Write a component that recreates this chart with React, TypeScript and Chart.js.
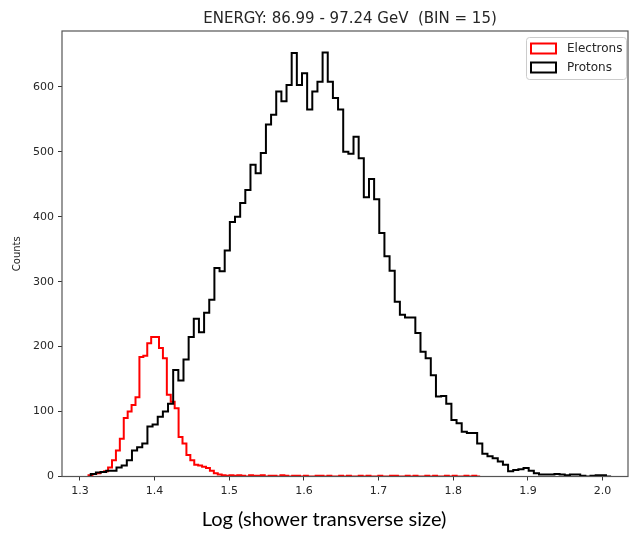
import React, { useEffect, useRef } from "react";
import { Chart, registerables } from "chart.js";

Chart.register(...registerables);

const TITLE = "ENERGY: 86.99 - 97.24 GeV  (BIN = 15)";
const X_LABEL = "Log (shower transverse size)";
const Y_LABEL = "Counts";
const SERIES_NAMES = ["Electrons", "Protons"];
const SERIES_COLORS = ["#ff0000", "#000000"];

const X_MIN = 1.276;
const X_MAX = 2.034;
const Y_MIN = 0;
const Y_MAX = 686;
const X_TICKS = [1.3, 1.4, 1.5, 1.6, 1.7, 1.8, 1.9, 2.0];
const Y_TICKS = [0, 100, 200, 300, 400, 500, 600];

// Electrons: 100 bins
const ELECTRON_START = 1.3115;
const ELECTRON_WIDTH = 0.005245;
const ELECTRON_COUNTS = [
  2, 2, 4, 5, 7, 8, 14, 25, 40, 58, 90, 100, 110, 122, 184, 186, 205, 215, 215, 198,
  182, 126, 115, 105, 61, 51, 33, 25, 18, 17, 15, 13, 9, 5,
  3, 2, 1, 2, 1, 2, 1, 0, 2, 1, 1, 2, 0, 1, 1, 0, 2, 1, 0, 1,
  1, 0, 1, 0, 0, 1, 1, 0, 1, 0, 0, 1, 0, 1, 0, 0, 1, 0, 1, 0,
  0, 1, 0, 0, 1, 1, 0, 0, 1, 0, 1, 0, 0, 1, 0, 1, 0, 0, 1, 0,
  1, 0, 0, 1, 0, 1,
];

// Protons: 101 bins
const PROTON_START = 1.3145;
const PROTON_WIDTH = 0.0069;
const PROTON_COUNTS = [
  2, 4, 6, 7, 9, 9, 14, 17, 25, 40, 45, 51, 77, 80, 92, 100, 112,
  164, 148, 180, 215, 243, 222, 252, 272, 321, 316, 348, 392, 400, 421, 441, 480, 467, 498, 542, 557, 593, 578, 603,
  652, 603, 621, 565, 593, 608, 653,
  608, 583, 565, 500, 497, 523, 490, 430, 458, 427,
  375, 339, 317, 269, 249, 245, 245, 221, 192, 182,
  156, 123, 124, 112, 87, 82, 69, 67, 67, 51,
  35, 31, 28, 23, 18, 8, 10, 11, 13, 9,
  5, 3, 3, 3, 4, 3, 2, 3, 3, 1,
  0, 1, 2, 2,
];

function stepPoints(start: number, width: number, counts: number[]) {
  const pts: { x: number; y: number }[] = [{ x: start, y: 0 }];
  counts.forEach((c, i) => pts.push({ x: start + i * width, y: c }));
  pts.push({ x: start + counts.length * width, y: 0 });
  return pts;
}

const decorPlugin = {
  id: "decor",
  afterDatasetsDraw(chart: any) {
    const { ctx, chartArea: a } = chart;
    ctx.save();
    ctx.strokeStyle = "#555555";
    ctx.lineWidth = 1.2;
    ctx.strokeRect(a.left, a.top, a.right - a.left, a.bottom - a.top);
    ctx.restore();
  },
  afterDraw(chart: any) {
    const { ctx } = chart;
    ctx.save();
    // title
    ctx.fillStyle = "#262626";
    ctx.font = "15px 'DejaVu Sans'";
    ctx.textAlign = "center";
    ctx.textBaseline = "middle";
    ctx.fillText(TITLE, 350, 19);
    // x label
    ctx.fillStyle = "#000000";
    ctx.font = "20px Lato";
    ctx.fillText(X_LABEL, 324, 520);
    // legend
    const lx = 526, ly = 37, lw = 100, lh = 42;
    ctx.fillStyle = "rgba(255,255,255,0.85)";
    ctx.strokeStyle = "#cccccc";
    ctx.lineWidth = 1;
    ctx.beginPath();
    (ctx as any).roundRect(lx + 0.5, ly + 0.5, lw, lh, 3);
    ctx.fill();
    ctx.stroke();
    ctx.font = "12px 'DejaVu Sans'";
    ctx.textAlign = "left";
    SERIES_NAMES.forEach((name, i) => {
      const cy = 48.5 + i * 19;
      ctx.strokeStyle = SERIES_COLORS[i];
      ctx.lineWidth = 2;
      ctx.strokeRect(531, cy - 5, 25, 10);
      ctx.fillStyle = "#262626";
      ctx.fillText(name, 567, cy);
    });
    ctx.restore();
  },
};

export default function App() {
  const ref = useRef<HTMLCanvasElement | null>(null);
  useEffect(() => {
    if (!ref.current) return;
    const tickFont = { family: "'DejaVu Sans'", size: 11 };
    const chart = new Chart(ref.current, {
      type: "line",
      data: {
        datasets: [
          {
            label: SERIES_NAMES[1],
            data: stepPoints(PROTON_START, PROTON_WIDTH, PROTON_COUNTS),
            borderColor: SERIES_COLORS[1],
            borderWidth: 2,
            stepped: "after",
            pointRadius: 0,
            fill: false,
            clip: 0,
            order: 0,
          },
          {
            label: SERIES_NAMES[0],
            data: stepPoints(ELECTRON_START, ELECTRON_WIDTH, ELECTRON_COUNTS),
            borderColor: SERIES_COLORS[0],
            borderWidth: 2,
            stepped: "after",
            pointRadius: 0,
            fill: false,
            clip: 0,
            order: 1,
          },
        ],
      },
      options: {
        animation: false,
        responsive: false,
        maintainAspectRatio: false,
        layout: { padding: { top: 31, right: 9, left: 0, bottom: 0 } },
        plugins: {
          legend: { display: false },
          tooltip: { enabled: false },
          title: { display: false },
        },
        scales: {
          x: {
            type: "linear",
            min: X_MIN,
            max: X_MAX,
            afterFit: (s: any) => {
              s.height = 56.5;
            },
            afterBuildTicks: (s: any) => {
              s.ticks = X_TICKS.map((v) => ({ value: v }));
            },
            ticks: {
              font: tickFont,
              color: "#262626",
              padding: 4,
              maxRotation: 0,
              autoSkip: false,
              callback: (v: any) => Number(v).toFixed(1),
            },
            grid: {
              drawOnChartArea: false,
              drawTicks: true,
              tickLength: 4,
              color: "#333333",
            },
            border: { display: false },
          },
          y: {
            type: "linear",
            min: Y_MIN,
            max: Y_MAX,
            afterFit: (s: any) => {
              s.width = 62;
            },
            afterBuildTicks: (s: any) => {
              s.ticks = Y_TICKS.map((v) => ({ value: v }));
            },
            ticks: {
              font: tickFont,
              color: "#262626",
              padding: 4,
              autoSkip: false,
              callback: (v: any) => String(v),
            },
            grid: {
              drawOnChartArea: false,
              drawTicks: true,
              tickLength: 4,
              color: "#333333",
            },
            border: { display: false },
            title: {
              display: true,
              text: Y_LABEL,
              font: { family: "'DejaVu Sans'", size: 10 },
              color: "#262626",
              padding: { top: 11, bottom: 0 },
            },
          },
        },
      },
      plugins: [decorPlugin],
    } as any);
    return () => chart.destroy();
  }, []);
  return (
    <div style={{ position: "absolute", left: 0, top: 0, width: 637, height: 533, background: "#fff" }}>
      <canvas ref={ref} width={637} height={533} style={{ display: "block" }} />
    </div>
  );
}
